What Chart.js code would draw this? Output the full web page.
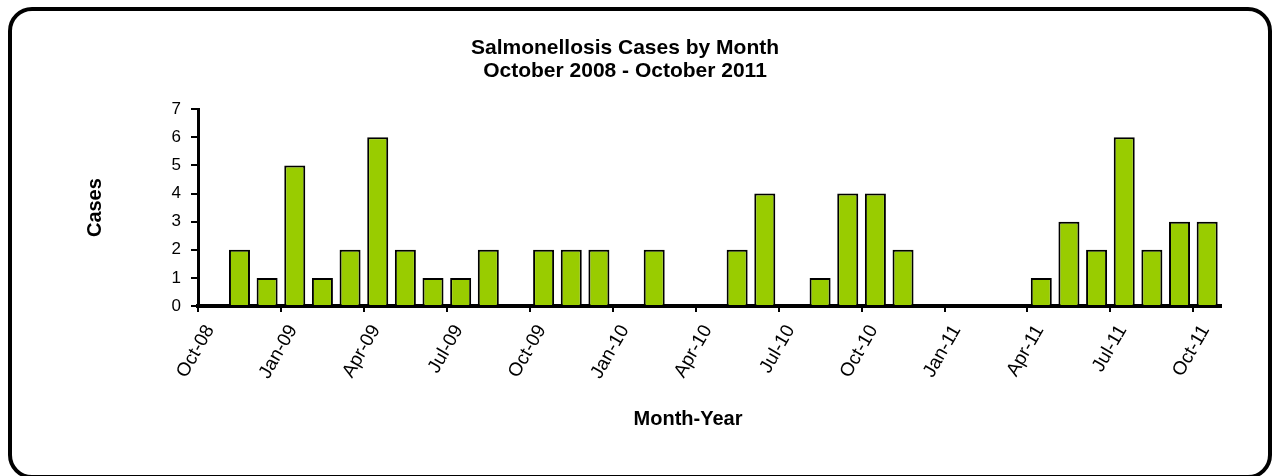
<!DOCTYPE html>
<html>
<head>
<meta charset="utf-8">
<script src="https://cdn.jsdelivr.net/npm/chart.js@4.4.0/dist/chart.umd.min.js"></script>
<style>
  html, body { margin: 0; padding: 0; background: #fff; }
  #wrap { position: relative; width: 1275px; height: 476px; overflow: hidden; }
  #frame { position: absolute; left: 8px; top: 7px; width: 1264px; height: 472px; box-sizing: border-box;
           border: 4px solid #000; border-radius: 24px; }
  canvas { position: absolute; left: 0; top: 0; }
</style>
</head>
<body>
<div id="wrap">
  <canvas id="chart" width="1275" height="476"></canvas>
  <div id="frame"></div>
</div>
<script>
// months shown on the axis, one per bar slot
const months = ['Oct-08', 'Nov-08', 'Dec-08', 'Jan-09', 'Feb-09', 'Mar-09', 'Apr-09', 'May-09', 'Jun-09', 'Jul-09',
  'Aug-09', 'Sep-09', 'Oct-09', 'Nov-09', 'Dec-09', 'Jan-10', 'Feb-10', 'Mar-10', 'Apr-10', 'May-10',
  'Jun-10', 'Jul-10', 'Aug-10', 'Sep-10', 'Oct-10', 'Nov-10', 'Dec-10', 'Jan-11', 'Feb-11', 'Mar-11',
  'Apr-11', 'May-11', 'Jun-11', 'Jul-11', 'Aug-11', 'Sep-11', 'Oct-11'];
const cases = [0, 2, 1, 5, 1, 2, 6, 2, 1, 1,
  2, 0, 2, 2, 2, 0, 2, 0, 0, 2,
  4, 0, 1, 4, 4, 2, 0, 0, 0, 0,
  1, 3, 2, 6, 2, 3, 3];
const tickMonths = ['Oct-08', 'Jan-09', 'Apr-09', 'Jul-09', 'Oct-09', 'Jan-10', 'Apr-10',
  'Jul-10', 'Oct-10', 'Jan-11', 'Apr-11', 'Jul-11', 'Oct-11'];
const yTicks = [0, 1, 2, 3, 4, 5, 6, 7];

const FONT = '"Liberation Sans", Arial, sans-serif';
Chart.defaults.font.family = FONT;
Chart.defaults.color = '#000';

// x axis title, centred where the original puts it
const xTitle = {
  id: 'xTitle',
  afterDraw(chart) {
    const ctx = chart.ctx;
    ctx.save();
    ctx.font = 'bold 20px ' + FONT;
    ctx.fillStyle = '#000';
    ctx.textAlign = 'center';
    ctx.textBaseline = 'alphabetic';
    ctx.fillText('Month-Year', 688, 425);
    ctx.restore();
  }
};

new Chart(document.getElementById('chart'), {
  type: 'bar',
  data: {
    datasets: [{
      label: 'Cases',
      data: cases.map((v, i) => ({ x: i + 0.5, y: v })),
      backgroundColor: '#99CC00',
      borderColor: '#000',
      borderWidth: 2,
      barPercentage: 0.76,
      categoryPercentage: 1
    }]
  },
  options: {
    responsive: false,
    animation: false,
    layout: { padding: { left: 29, right: 54, top: 0, bottom: 0 } },
    plugins: {
      legend: { display: false },
      tooltip: { enabled: false },
      title: {
        display: true,
        text: ['Salmonellosis Cases by Month', 'October 2008 - October 2011'],
        font: { size: 21, weight: 'bold', lineHeight: 1.1 },
        color: '#000',
        padding: { top: 37, bottom: 26 }
      }
    },
    scales: {
      x: {
        type: 'linear',
        min: 0,
        max: months.length,
        offset: false,
        z: 1,
        grid: { drawOnChartArea: false, drawTicks: true, tickLength: 6, color: '#000', lineWidth: 2, offset: false },
        border: { display: true, color: '#000', width: 4 },
        ticks: {
          autoSkip: false,
          maxRotation: 60,
          minRotation: 60,
          padding: 9,
          labelOffset: 12,
          font: { size: 19 },
          color: '#000',
          callback: v => months[v]
        },
        afterBuildTicks: s => { s.ticks = tickMonths.map(m => ({ value: months.indexOf(m) })); },
        afterFit: s => { s.height = 170; s.paddingLeft = 0; s.paddingRight = 0; }
      },
      y: {
        min: 0,
        max: 7,
        ticks: { stepSize: 1, padding: 10, font: { size: 17 }, color: '#000' },
        afterBuildTicks: s => { s.ticks = yTicks.map(v => ({ value: v })); },
        grid: { drawOnChartArea: false, drawTicks: true, tickLength: 7, color: '#000', lineWidth: 2 },
        border: { color: '#000', width: 3 },
        title: {
          display: true,
          text: 'Cases',
          font: { size: 20, weight: 'bold' },
          color: '#000',
          padding: { top: 54, bottom: 0 }
        },
        afterFit: s => { s.width = 169; }
      }
    }
  },
  plugins: [xTitle]
});
</script>
</body>
</html>
